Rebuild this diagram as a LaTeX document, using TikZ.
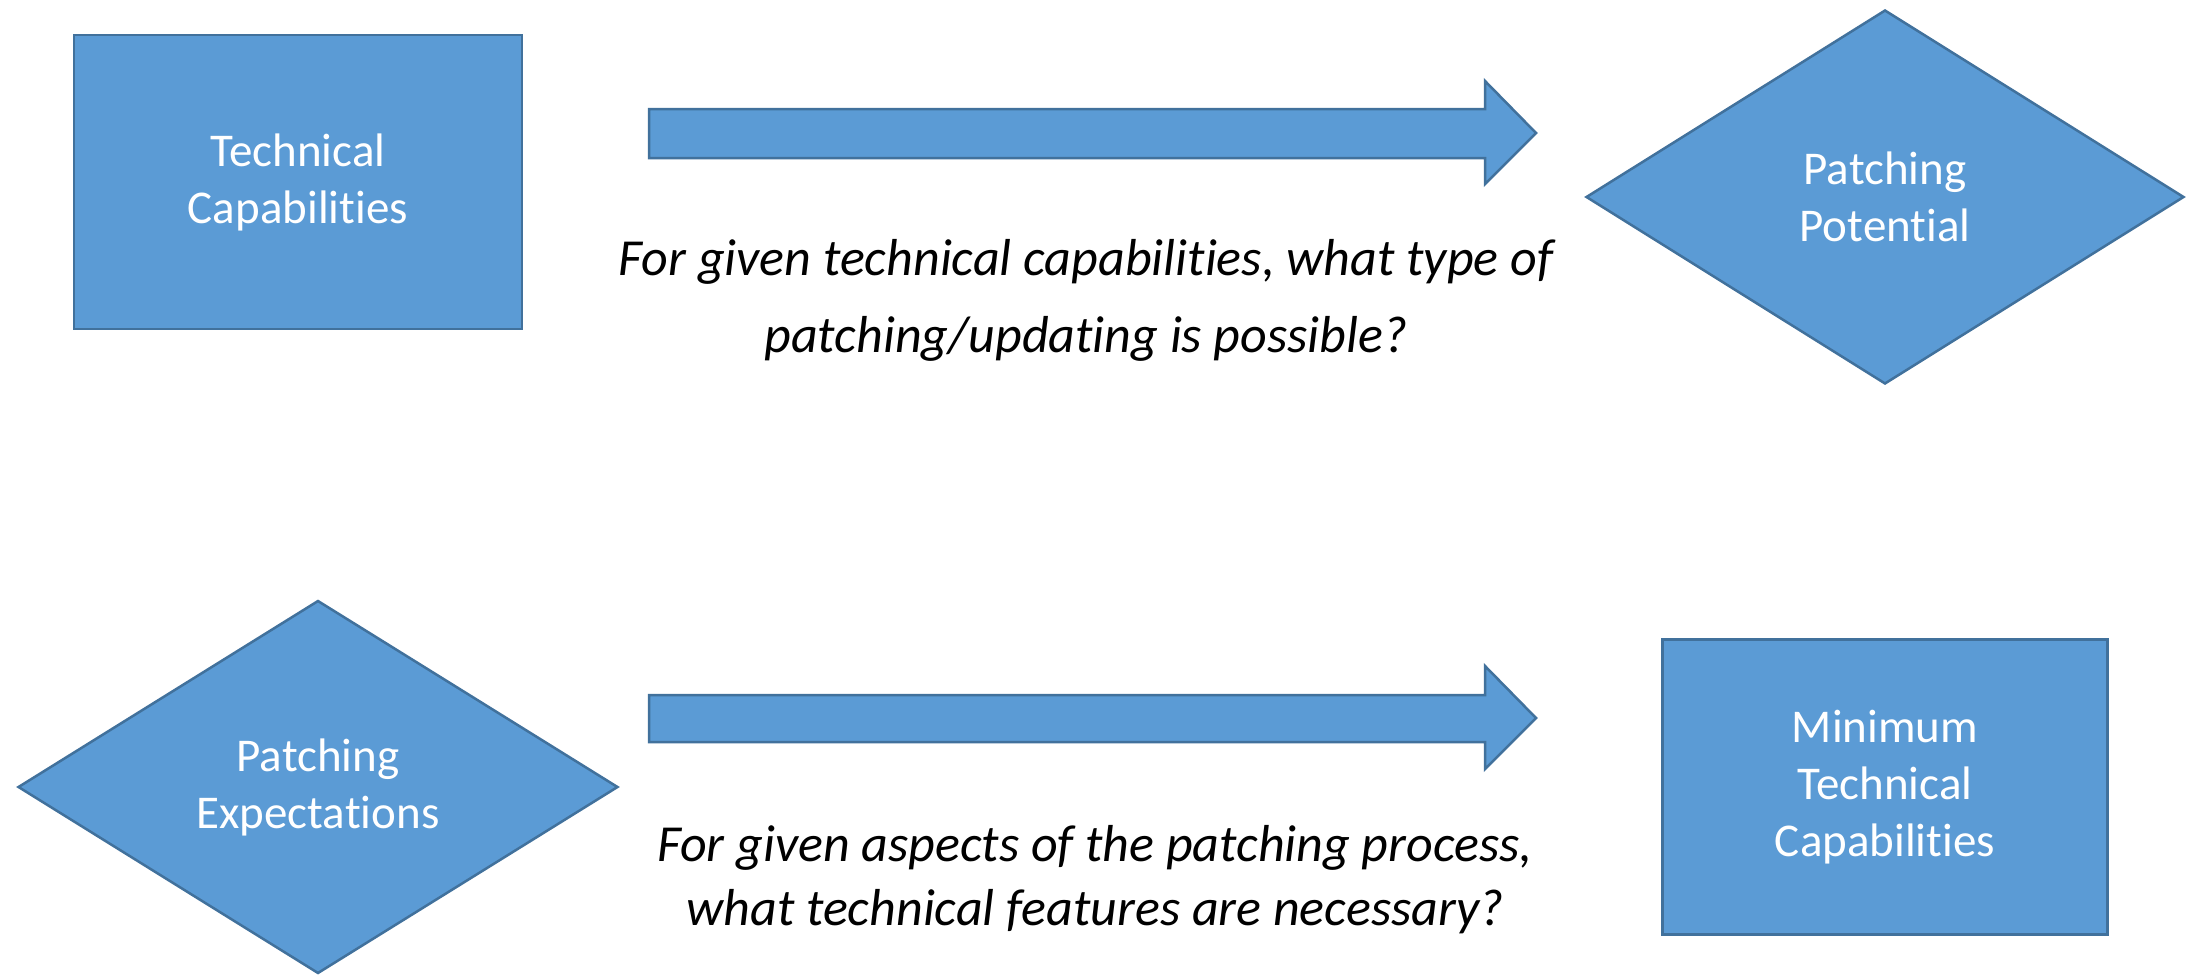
\documentclass[tikz,border=0pt]{standalone}
\usepackage{fontspec}
\setmainfont{Carlito}[Ligatures={NoCommon}]
\usetikzlibrary{shapes.geometric}
\definecolor{boxfill}{HTML}{5B9BD5}
\definecolor{boxline}{HTML}{41719C}
\tikzset{
  shapebase/.style={fill=boxfill, draw=boxline, line width=2.5pt, text=white, align=center, inner sep=0pt,
    font=\fontsize{47}{57}\selectfont},
  rectbox/.style={shapebase, rectangle},
  diabox/.style={shapebase, diamond},
  blockarrow/.style={fill=boxfill, draw=boxline, line width=2.5pt, line join=miter},
  question/.style={align=center, font=\fontsize{52}{64}\selectfont\itshape, text=black, inner sep=0pt}
}
\begin{document}
\begin{tikzpicture}[x=1pt,y=-1pt]
\useasboundingbox (0,0) rectangle (2187,977);
\fill[white] (0,0) rectangle (2187,977);
% top row
\node[rectbox, minimum width=448pt, minimum height=294pt] (tc) at (298,182) {Technical\\Capabilities};
\node[diabox, minimum width=598pt, minimum height=374pt] (pp) at (1885,197) {Patching\\Potential};
\draw[blockarrow] (649,109) -- (1485,109) -- (1485,81) -- (1536,133) -- (1485,184) -- (1485,158) -- (649,158) -- cycle;
\node[question, font=\fontsize{52}{77}\selectfont\itshape] (q1) at (1086,300) {For given technical capabilities, what type of\\patching/updating is possible?};
% bottom row
\node[diabox, minimum width=600pt, minimum height=373pt] (pe) at (318,787) {Patching\\Expectations};
\node[rectbox, minimum width=445pt, minimum height=295pt] (mtc) at (1885,787) {Minimum\\Technical\\Capabilities};
\draw[blockarrow] (649,695) -- (1485,695) -- (1485,666) -- (1536,718) -- (1485,769) -- (1485,742) -- (649,742) -- cycle;
\node[question] (q2) at (1095,880) {For given aspects of the patching process,\\what technical features are necessary?};
\end{tikzpicture}
\end{document}
